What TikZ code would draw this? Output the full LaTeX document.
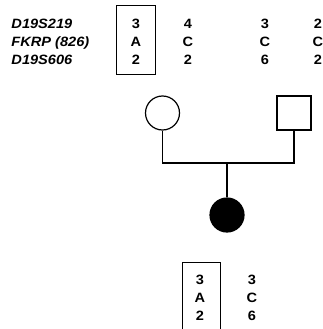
\documentclass[tikz,border=0pt]{standalone}
\usepackage{fontspec}
\usepackage{tikz}
\usetikzlibrary{positioning,calc}
\newfontfamily\gtfont[FakeStretch=1.08]{Liberation Sans}

\begin{document}
\begin{tikzpicture}[x=1pt, y=-1pt, line width=1pt, font=\gtfont\fontsize{13.5}{15}\selectfont\bfseries]
		\tikzstyle{every node}=[inner sep=0pt]
		\tikzstyle{marker}=[anchor=base west, font=\gtfont\fontsize{13.5}{15}\selectfont\bfseries\itshape]
		\tikzstyle{allele}=[anchor=base]
		\tikzstyle{person}=[draw=black, line width=1.2pt, minimum size=34pt]
		\useasboundingbox (0,0) rectangle (323,329);
		\begin{scope}
			% marker names
			\node[marker] (s219) at (11,28.5) {D19S219}; \node[marker] (fkrp)
			at (11,46.5) {FKRP (826)}; \node[marker] (s606) at (11,64.5)
			{D19S606};

			% parental haplotypes
			\node[allele] (m1a) at (136,28.5) {3}; \node[allele] (m1b) at
			(136,46.5) {A}; \node[allele] (m1c) at (136,64.5) {2};
			\node[allele] (m2a) at (188,28.5) {4}; \node[allele] (m2b) at
			(188,46.5) {C}; \node[allele] (m2c) at (188,64.5) {2};
			\node[allele] (f1a) at (265,28.5) {3}; \node[allele] (f1b) at
			(265,46.5) {C}; \node[allele] (f1c) at (265,64.5) {6};
			\node[allele] (f2a) at (318,28.5) {2}; \node[allele] (f2b) at
			(318,46.5) {C}; \node[allele] (f2c) at (318,64.5) {2};
			\draw (116,6) rectangle (155,74);

			% pedigree
			\node[person,circle] (mom) at (162.5,113) {}; \node[person,
			rectangle] (dad) at (294,113) {}; \node[person,circle,fill=black]
			(kid) at (227,215) {}; \coordinate (bar) at (227,163);
			\draw[line width=1.2pt] (mom) |- (bar) -| (dad); \draw[line
			width=1.2pt] (bar) -- (kid);

			% child haplotypes
			\node[allele] (k1a) at (200,284.5) {3}; \node[allele] (k1b) at
			(200,302.5) {A}; \node[allele] (k1c) at (200,320.5) {2};
			\node[allele] (k2a) at (252,284.5) {3}; \node[allele] (k2b) at
			(252,302.5) {C}; \node[allele] (k2c) at (252,320.5) {6};
			\draw (182,329) |- (220,262) -- (220,329);
		\end{scope}
	\end{tikzpicture}
\end{document}
